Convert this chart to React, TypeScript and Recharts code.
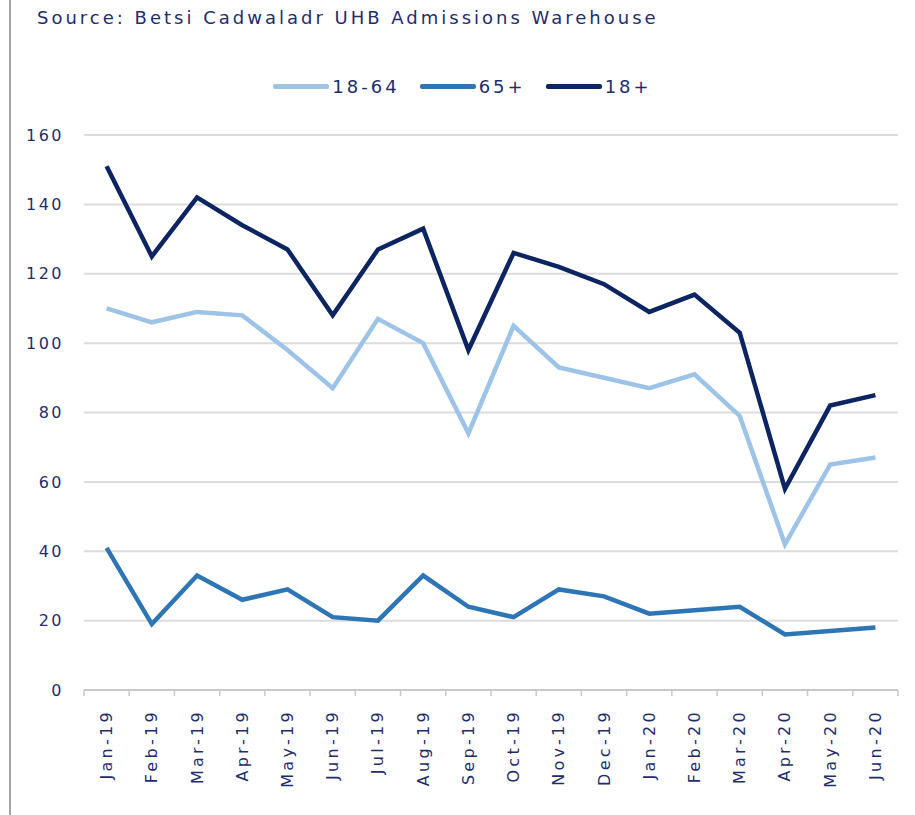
import { CartesianGrid, Legend, Line, LineChart, XAxis, YAxis } from "recharts";

const months = [
  "Jan-19", "Feb-19", "Mar-19", "Apr-19", "May-19", "Jun-19",
  "Jul-19", "Aug-19", "Sep-19", "Oct-19", "Nov-19", "Dec-19",
  "Jan-20", "Feb-20", "Mar-20", "Apr-20", "May-20", "Jun-20",
];
const seriesNames = ["18-64", "65+", "18+"];
const age18to64 = [110, 106, 109, 108, 98, 87, 107, 100, 74, 105, 93, 90, 87, 91, 79, 42, 65, 67];
const age65plus = [41, 19, 33, 26, 29, 21, 20, 33, 24, 21, 29, 27, 22, 23, 24, 16, 17, 18];
const age18plus = [151, 125, 142, 134, 127, 108, 127, 133, 98, 126, 122, 117, 109, 114, 103, 58, 82, 85];
const yTicks = [0, 20, 40, 60, 80, 100, 120, 140, 160];

const data = months.map((month, i) => ({
  month,
  a: age18to64[i],
  b: age65plus[i],
  c: age18plus[i],
}));

const TEXT = "#1f2d6b";
const FONT = "'DejaVu Sans', Verdana, sans-serif";
const W = 915;
const H = 815;
const LEGEND_H = 20;
const MARGIN = { top: 135 - LEGEND_H, right: 17, bottom: 15, left: 22 };
const Y_WIDTH = 62;
const HALF_BAND = (W - MARGIN.left - Y_WIDTH - MARGIN.right) / months.length / 2;

function MonthTick(props: any) {
  const { x, y, payload, index } = props;
  const axisY = H - MARGIN.bottom - 110;
  const ty = y + 11;
  return (
    <g>
      <line x1={x - HALF_BAND} x2={x - HALF_BAND} y1={axisY} y2={axisY + 6} stroke="#c8c8c8" strokeWidth={1.5} />
      {index === months.length - 1 && (
        <line x1={x + HALF_BAND} x2={x + HALF_BAND} y1={axisY} y2={axisY + 6} stroke="#c8c8c8" strokeWidth={1.5} />
      )}
      <text
        x={x}
        y={ty}
        transform={`rotate(-90, ${x}, ${ty})`}
        textAnchor="end"
        dominantBaseline="central"
        fill={TEXT}
        fontSize={16}
        letterSpacing={3.3}
        fontFamily={FONT}
      >
        {payload.value}
      </text>
    </g>
  );
}

function LegendBox({ payload }: any) {
  const items = [...(payload || [])].sort(
    (p: any, q: any) => seriesNames.indexOf(p.value) - seriesNames.indexOf(q.value)
  );
  return (
    <div style={{ display: "flex", justifyContent: "center", paddingLeft: 30, height: LEGEND_H }}>
      {items.map((item: any) => (
        <div key={item.value} style={{ display: "flex", alignItems: "center", marginRight: 20 }}>
          <div style={{ width: 56, height: 5, background: item.color, borderRadius: 2, marginRight: 3 }} />
          <span style={{ fontSize: 18, letterSpacing: 3, color: TEXT, fontFamily: FONT }}>{item.value}</span>
        </div>
      ))}
    </div>
  );
}

export default function App() {
  return (
    <div style={{ position: "absolute", left: 0, top: 0, width: W, height: H, background: "#fff", fontFamily: FONT }}>
      <div style={{ position: "absolute", left: 9, top: 0, width: 2, height: H, background: "#a6a6a6" }} />
      <div
        style={{
          position: "absolute",
          left: 37,
          top: 7,
          fontSize: 18,
          letterSpacing: 3,
          color: TEXT,
          whiteSpace: "nowrap",
        }}
      >
        Source: Betsi Cadwaladr UHB Admissions Warehouse
      </div>
      <LineChart width={W} height={H} data={data} margin={MARGIN}>
        <CartesianGrid vertical={false} stroke="#dcdcdc" strokeWidth={2} />
        <XAxis
          dataKey="month"
          interval={0}
          height={110}
          padding={{ left: HALF_BAND, right: HALF_BAND }}
          tickLine={false}
          axisLine={{ stroke: "#c8c8c8", strokeWidth: 2 }}
          tick={<MonthTick />}
        />
        <YAxis
          domain={[0, 160]}
          ticks={yTicks}
          width={Y_WIDTH}
          axisLine={false}
          tickLine={false}
          tickMargin={14}
          tick={{ fill: TEXT, fontSize: 16, letterSpacing: 2.5, fontFamily: FONT }}
        />
        <Legend
          verticalAlign="top"
          height={LEGEND_H}
          content={<LegendBox />}
          wrapperStyle={{ top: 76, left: 0, width: W }}
        />
        <Line dataKey="a" name={seriesNames[0]} stroke="#9dc3e6" strokeWidth={4.5} dot={false} isAnimationActive={false} />
        <Line dataKey="b" name={seriesNames[1]} stroke="#2e75b6" strokeWidth={4.5} dot={false} isAnimationActive={false} />
        <Line dataKey="c" name={seriesNames[2]} stroke="#0c2461" strokeWidth={4.5} dot={false} isAnimationActive={false} />
      </LineChart>
    </div>
  );
}
